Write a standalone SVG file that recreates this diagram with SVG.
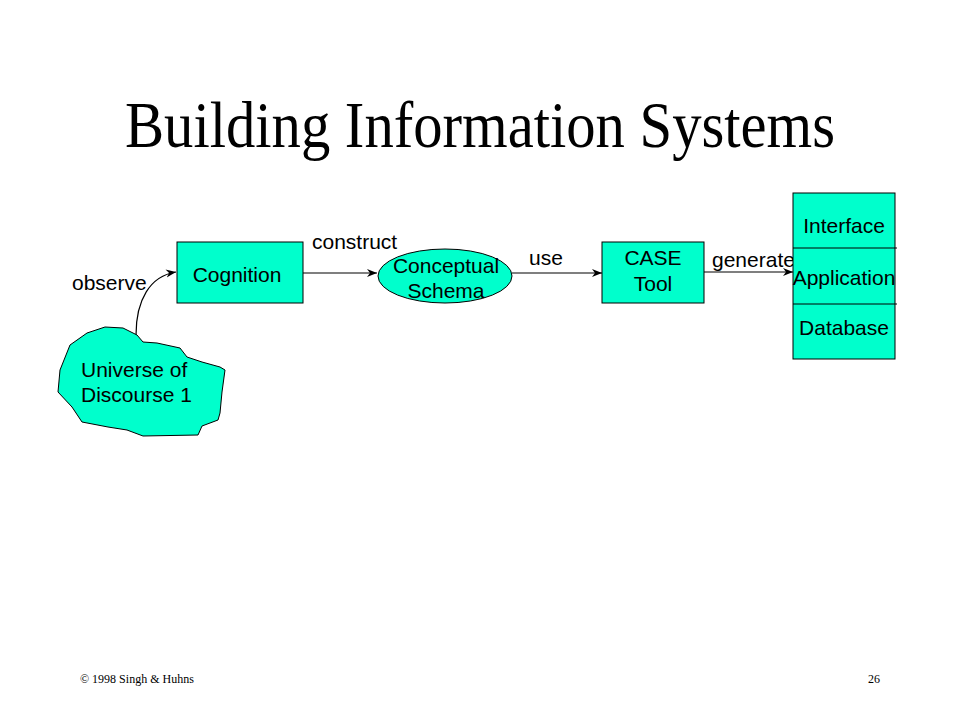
<svg xmlns="http://www.w3.org/2000/svg" width="960" height="720" viewBox="0 0 960 720">
<style>
.shape{fill:#00ffcc;stroke:#000;stroke-width:1}
.lbl{font-family:"Liberation Sans",Arial,sans-serif;font-size:21px;fill:#000}
.mid{text-anchor:middle}
.con{fill:none;stroke:#000;stroke-width:1.2}
.foot{font-family:"Liberation Serif","Times New Roman",serif;font-size:12px;fill:#000}
</style>
<defs>
<marker id="arr" viewBox="0 0 10 10" refX="10" refY="5" markerWidth="10" markerHeight="10" markerUnits="userSpaceOnUse" orient="auto">
<path d="M0,1 L10,5 L0,9 L3,5 z" fill="#000"/>
</marker>
</defs>
<rect width="960" height="720" fill="#fff"/>
<text x="480" y="147" text-anchor="middle" font-family="'Liberation Serif','Times New Roman',serif" font-size="66" textLength="710" lengthAdjust="spacingAndGlyphs">Building Information Systems</text>

<g id="connectors">
<path class="con" d="M136,335 C136,300 150,276 176,272" marker-end="url(#arr)"/>
<line class="con" x1="303" y1="273" x2="377" y2="273" marker-end="url(#arr)"/>
<line class="con" x1="512" y1="273" x2="602" y2="273" marker-end="url(#arr)"/>
<line class="con" x1="704" y1="272" x2="793" y2="272" marker-end="url(#arr)"/>
<text class="lbl" x="72" y="290">observe</text>
<text class="lbl" x="312" y="249">construct</text>
<text class="lbl" x="529" y="265">use</text>
<text class="lbl" x="712" y="267">generate</text>
</g>

<g id="universe">
<polygon class="shape" points="70,345 87,333 105,327 123,328 137,335 143,342 157,343 180,348 187,357 202,362 220,367 225,370 222,392 220,413 218,420 202,426 198,435 143,436 127,430 108,427 82,422 72,407 58,392 60,370"/>
<text class="lbl" x="81" y="377">Universe of</text>
<text class="lbl" x="81" y="402">Discourse 1</text>
</g>

<g id="cognition">
<rect class="shape" x="177" y="242" width="126" height="61"/>
<text class="lbl mid" x="237" y="282">Cognition</text>
</g>

<g id="schema">
<ellipse class="shape" cx="445" cy="276" rx="67" ry="27"/>
<text class="lbl mid" x="446" y="273">Conceptual</text>
<text class="lbl mid" x="446" y="298">Schema</text>
</g>

<g id="case">
<rect class="shape" x="602" y="242" width="102" height="61"/>
<text class="lbl mid" x="653" y="265">CASE</text>
<text class="lbl mid" x="653" y="291">Tool</text>
</g>

<g id="system">
<rect class="shape" x="793" y="193" width="102" height="166"/>
<line x1="793" y1="248" x2="897" y2="248" stroke="#000" stroke-width="1"/>
<line x1="793" y1="304" x2="897" y2="304" stroke="#000" stroke-width="1"/>
<text class="lbl mid" x="844" y="233">Interface</text>
<text class="lbl mid" x="844" y="285">Application</text>
<text class="lbl mid" x="844" y="335">Database</text>
</g>

<text class="foot" x="80" y="683">© 1998 Singh &amp; Huhns</text>
<text class="foot" x="868" y="683">26</text>
</svg>
